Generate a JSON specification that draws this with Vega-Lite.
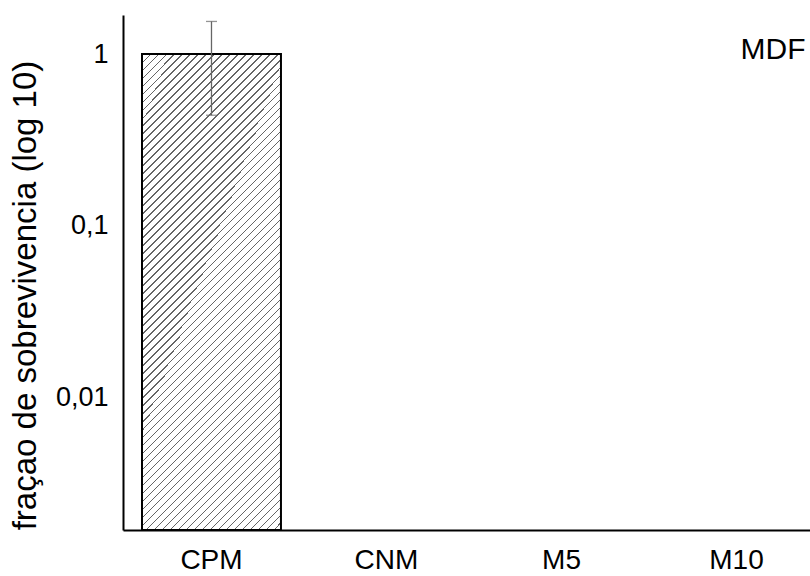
{
  "$schema": "https://vega.github.io/schema/vega-lite/v6.json",
  "autosize": {"type": "none"},
  "padding": {"left": 123, "top": 15, "right": 0, "bottom": 46},
  "width": 687,
  "height": 515,
  "background": "white",
  "config": {"view": {"stroke": null}, "font": "Liberation Sans"},
  "datasets": {
    "barras": [
      {"grupo": "CPM", "fracao": 1, "lo": 0.44, "hi": 1.55},
      {"grupo": "CNM", "fracao": null, "lo": null, "hi": null},
      {"grupo": "M5", "fracao": null, "lo": null, "hi": null},
      {"grupo": "M10", "fracao": null, "lo": null, "hi": null}
    ],
    "anot": [{"grupo": "M10", "fracao": 1, "texto": "MDF"}]
  },
  "encoding": {
    "x": {
      "field": "grupo", "type": "nominal",
      "scale": {"domain": ["CPM", "CNM", "M5", "M10"], "range": [0, 702], "paddingInner": 0.206, "paddingOuter": 0.1086},
      "axis": {"title": null, "ticks": false, "labelAngle": 0, "labelFontSize": 28, "labelColor": "black", "labelPadding": 16, "domainColor": "black", "domainWidth": 2}
    }
  },
  "layer": [
    {
      "data": {"name": "barras"},
      "mark": {
        "type": "bar", "stroke": "black", "strokeWidth": 2,
        "fill": {"gradient": "linear", "x1": 0, "y1": 0, "x2": 0.3982, "y2": 1.3608, "stops": [
{"offset":0,"color":"#666"},{"offset":0.002,"color":"#666"},{"offset":0.002,"color":"#fff"},{"offset":0.01136,"color":"#fff"},
{"offset":0.01136,"color":"#666"},{"offset":0.01336,"color":"#666"},{"offset":0.01336,"color":"#fff"},{"offset":0.02273,"color":"#fff"},
{"offset":0.02273,"color":"#666"},{"offset":0.02473,"color":"#666"},{"offset":0.02473,"color":"#fff"},{"offset":0.03409,"color":"#fff"},
{"offset":0.03409,"color":"#666"},{"offset":0.03609,"color":"#666"},{"offset":0.03609,"color":"#fff"},{"offset":0.04545,"color":"#fff"},
{"offset":0.04545,"color":"#666"},{"offset":0.04745,"color":"#666"},{"offset":0.04745,"color":"#fff"},{"offset":0.05682,"color":"#fff"},
{"offset":0.05682,"color":"#666"},{"offset":0.05882,"color":"#666"},{"offset":0.05882,"color":"#fff"},{"offset":0.06818,"color":"#fff"},
{"offset":0.06818,"color":"#666"},{"offset":0.07018,"color":"#666"},{"offset":0.07018,"color":"#fff"},{"offset":0.07955,"color":"#fff"},
{"offset":0.07955,"color":"#666"},{"offset":0.08155,"color":"#666"},{"offset":0.08155,"color":"#fff"},{"offset":0.09091,"color":"#fff"},
{"offset":0.09091,"color":"#666"},{"offset":0.09291,"color":"#666"},{"offset":0.09291,"color":"#fff"},{"offset":0.10227,"color":"#fff"},
{"offset":0.10227,"color":"#666"},{"offset":0.10427,"color":"#666"},{"offset":0.10427,"color":"#fff"},{"offset":0.11364,"color":"#fff"},
{"offset":0.11364,"color":"#666"},{"offset":0.11564,"color":"#666"},{"offset":0.11564,"color":"#fff"},{"offset":0.125,"color":"#fff"},
{"offset":0.125,"color":"#666"},{"offset":0.127,"color":"#666"},{"offset":0.127,"color":"#fff"},{"offset":0.13636,"color":"#fff"},
{"offset":0.13636,"color":"#666"},{"offset":0.13836,"color":"#666"},{"offset":0.13836,"color":"#fff"},{"offset":0.14773,"color":"#fff"},
{"offset":0.14773,"color":"#666"},{"offset":0.14973,"color":"#666"},{"offset":0.14973,"color":"#fff"},{"offset":0.15909,"color":"#fff"},
{"offset":0.15909,"color":"#666"},{"offset":0.16109,"color":"#666"},{"offset":0.16109,"color":"#fff"},{"offset":0.17045,"color":"#fff"},
{"offset":0.17045,"color":"#666"},{"offset":0.17245,"color":"#666"},{"offset":0.17245,"color":"#fff"},{"offset":0.18182,"color":"#fff"},
{"offset":0.18182,"color":"#666"},{"offset":0.18382,"color":"#666"},{"offset":0.18382,"color":"#fff"},{"offset":0.19318,"color":"#fff"},
{"offset":0.19318,"color":"#666"},{"offset":0.19518,"color":"#666"},{"offset":0.19518,"color":"#fff"},{"offset":0.20455,"color":"#fff"},
{"offset":0.20455,"color":"#666"},{"offset":0.20655,"color":"#666"},{"offset":0.20655,"color":"#fff"},{"offset":0.21591,"color":"#fff"},
{"offset":0.21591,"color":"#666"},{"offset":0.21791,"color":"#666"},{"offset":0.21791,"color":"#fff"},{"offset":0.22727,"color":"#fff"},
{"offset":0.22727,"color":"#666"},{"offset":0.22927,"color":"#666"},{"offset":0.22927,"color":"#fff"},{"offset":0.23864,"color":"#fff"},
{"offset":0.23864,"color":"#666"},{"offset":0.24064,"color":"#666"},{"offset":0.24064,"color":"#fff"},{"offset":0.25,"color":"#fff"},
{"offset":0.25,"color":"#666"},{"offset":0.252,"color":"#666"},{"offset":0.252,"color":"#fff"},{"offset":0.26136,"color":"#fff"},
{"offset":0.26136,"color":"#666"},{"offset":0.26336,"color":"#666"},{"offset":0.26336,"color":"#fff"},{"offset":0.27273,"color":"#fff"},
{"offset":0.27273,"color":"#666"},{"offset":0.27473,"color":"#666"},{"offset":0.27473,"color":"#fff"},{"offset":0.28409,"color":"#fff"},
{"offset":0.28409,"color":"#666"},{"offset":0.28609,"color":"#666"},{"offset":0.28609,"color":"#fff"},{"offset":0.29545,"color":"#fff"},
{"offset":0.29545,"color":"#666"},{"offset":0.29745,"color":"#666"},{"offset":0.29745,"color":"#fff"},{"offset":0.30682,"color":"#fff"},
{"offset":0.30682,"color":"#666"},{"offset":0.30882,"color":"#666"},{"offset":0.30882,"color":"#fff"},{"offset":0.31818,"color":"#fff"},
{"offset":0.31818,"color":"#666"},{"offset":0.32018,"color":"#666"},{"offset":0.32018,"color":"#fff"},{"offset":0.32955,"color":"#fff"},
{"offset":0.32955,"color":"#666"},{"offset":0.33155,"color":"#666"},{"offset":0.33155,"color":"#fff"},{"offset":0.34091,"color":"#fff"},
{"offset":0.34091,"color":"#666"},{"offset":0.34291,"color":"#666"},{"offset":0.34291,"color":"#fff"},{"offset":0.35227,"color":"#fff"},
{"offset":0.35227,"color":"#666"},{"offset":0.35427,"color":"#666"},{"offset":0.35427,"color":"#fff"},{"offset":0.36364,"color":"#fff"},
{"offset":0.36364,"color":"#666"},{"offset":0.36564,"color":"#666"},{"offset":0.36564,"color":"#fff"},{"offset":0.375,"color":"#fff"},
{"offset":0.375,"color":"#666"},{"offset":0.377,"color":"#666"},{"offset":0.377,"color":"#fff"},{"offset":0.38636,"color":"#fff"},
{"offset":0.38636,"color":"#666"},{"offset":0.38836,"color":"#666"},{"offset":0.38836,"color":"#fff"},{"offset":0.39773,"color":"#fff"},
{"offset":0.39773,"color":"#666"},{"offset":0.39973,"color":"#666"},{"offset":0.39973,"color":"#fff"},{"offset":0.40909,"color":"#fff"},
{"offset":0.40909,"color":"#666"},{"offset":0.41109,"color":"#666"},{"offset":0.41109,"color":"#fff"},{"offset":0.42045,"color":"#fff"},
{"offset":0.42045,"color":"#666"},{"offset":0.42245,"color":"#666"},{"offset":0.42245,"color":"#fff"},{"offset":0.43182,"color":"#fff"},
{"offset":0.43182,"color":"#666"},{"offset":0.43382,"color":"#666"},{"offset":0.43382,"color":"#fff"},{"offset":0.44318,"color":"#fff"},
{"offset":0.44318,"color":"#666"},{"offset":0.44518,"color":"#666"},{"offset":0.44518,"color":"#fff"},{"offset":0.45455,"color":"#fff"},
{"offset":0.45455,"color":"#666"},{"offset":0.45655,"color":"#666"},{"offset":0.45655,"color":"#fff"},{"offset":0.46591,"color":"#fff"},
{"offset":0.46591,"color":"#666"},{"offset":0.46791,"color":"#666"},{"offset":0.46791,"color":"#fff"},{"offset":0.47727,"color":"#fff"},
{"offset":0.47727,"color":"#666"},{"offset":0.47927,"color":"#666"},{"offset":0.47927,"color":"#fff"},{"offset":0.48864,"color":"#fff"},
{"offset":0.48864,"color":"#666"},{"offset":0.49064,"color":"#666"},{"offset":0.49064,"color":"#fff"},{"offset":0.5,"color":"#fff"},
{"offset":0.5,"color":"#666"},{"offset":0.502,"color":"#666"},{"offset":0.502,"color":"#fff"},{"offset":0.51136,"color":"#fff"},
{"offset":0.51136,"color":"#666"},{"offset":0.51336,"color":"#666"},{"offset":0.51336,"color":"#fff"},{"offset":0.52273,"color":"#fff"},
{"offset":0.52273,"color":"#666"},{"offset":0.52473,"color":"#666"},{"offset":0.52473,"color":"#fff"},{"offset":0.53409,"color":"#fff"},
{"offset":0.53409,"color":"#666"},{"offset":0.53609,"color":"#666"},{"offset":0.53609,"color":"#fff"},{"offset":0.54545,"color":"#fff"},
{"offset":0.54545,"color":"#666"},{"offset":0.54745,"color":"#666"},{"offset":0.54745,"color":"#fff"},{"offset":0.55682,"color":"#fff"},
{"offset":0.55682,"color":"#666"},{"offset":0.55882,"color":"#666"},{"offset":0.55882,"color":"#fff"},{"offset":0.56818,"color":"#fff"},
{"offset":0.56818,"color":"#666"},{"offset":0.57018,"color":"#666"},{"offset":0.57018,"color":"#fff"},{"offset":0.57955,"color":"#fff"},
{"offset":0.57955,"color":"#666"},{"offset":0.58155,"color":"#666"},{"offset":0.58155,"color":"#fff"},{"offset":0.59091,"color":"#fff"},
{"offset":0.59091,"color":"#666"},{"offset":0.59291,"color":"#666"},{"offset":0.59291,"color":"#fff"},{"offset":0.60227,"color":"#fff"},
{"offset":0.60227,"color":"#666"},{"offset":0.60427,"color":"#666"},{"offset":0.60427,"color":"#fff"},{"offset":0.61364,"color":"#fff"},
{"offset":0.61364,"color":"#666"},{"offset":0.61564,"color":"#666"},{"offset":0.61564,"color":"#fff"},{"offset":0.625,"color":"#fff"},
{"offset":0.625,"color":"#666"},{"offset":0.627,"color":"#666"},{"offset":0.627,"color":"#fff"},{"offset":0.63636,"color":"#fff"},
{"offset":0.63636,"color":"#666"},{"offset":0.63836,"color":"#666"},{"offset":0.63836,"color":"#fff"},{"offset":0.64773,"color":"#fff"},
{"offset":0.64773,"color":"#666"},{"offset":0.64973,"color":"#666"},{"offset":0.64973,"color":"#fff"},{"offset":0.65909,"color":"#fff"},
{"offset":0.65909,"color":"#666"},{"offset":0.66109,"color":"#666"},{"offset":0.66109,"color":"#fff"},{"offset":0.67045,"color":"#fff"},
{"offset":0.67045,"color":"#666"},{"offset":0.67245,"color":"#666"},{"offset":0.67245,"color":"#fff"},{"offset":0.68182,"color":"#fff"},
{"offset":0.68182,"color":"#666"},{"offset":0.68382,"color":"#666"},{"offset":0.68382,"color":"#fff"},{"offset":0.69318,"color":"#fff"},
{"offset":0.69318,"color":"#666"},{"offset":0.69518,"color":"#666"},{"offset":0.69518,"color":"#fff"},{"offset":0.70455,"color":"#fff"},
{"offset":0.70455,"color":"#666"},{"offset":0.70655,"color":"#666"},{"offset":0.70655,"color":"#fff"},{"offset":0.71591,"color":"#fff"},
{"offset":0.71591,"color":"#666"},{"offset":0.71791,"color":"#666"},{"offset":0.71791,"color":"#fff"},{"offset":0.72727,"color":"#fff"},
{"offset":0.72727,"color":"#666"},{"offset":0.72927,"color":"#666"},{"offset":0.72927,"color":"#fff"},{"offset":0.73864,"color":"#fff"},
{"offset":0.73864,"color":"#666"},{"offset":0.74064,"color":"#666"},{"offset":0.74064,"color":"#fff"},{"offset":0.75,"color":"#fff"},
{"offset":0.75,"color":"#666"},{"offset":0.752,"color":"#666"},{"offset":0.752,"color":"#fff"},{"offset":0.76136,"color":"#fff"},
{"offset":0.76136,"color":"#666"},{"offset":0.76336,"color":"#666"},{"offset":0.76336,"color":"#fff"},{"offset":0.77273,"color":"#fff"},
{"offset":0.77273,"color":"#666"},{"offset":0.77473,"color":"#666"},{"offset":0.77473,"color":"#fff"},{"offset":0.78409,"color":"#fff"},
{"offset":0.78409,"color":"#666"},{"offset":0.78609,"color":"#666"},{"offset":0.78609,"color":"#fff"},{"offset":0.79545,"color":"#fff"},
{"offset":0.79545,"color":"#666"},{"offset":0.79745,"color":"#666"},{"offset":0.79745,"color":"#fff"},{"offset":0.80682,"color":"#fff"},
{"offset":0.80682,"color":"#666"},{"offset":0.80882,"color":"#666"},{"offset":0.80882,"color":"#fff"},{"offset":0.81818,"color":"#fff"},
{"offset":0.81818,"color":"#666"},{"offset":0.82018,"color":"#666"},{"offset":0.82018,"color":"#fff"},{"offset":0.82955,"color":"#fff"},
{"offset":0.82955,"color":"#666"},{"offset":0.83155,"color":"#666"},{"offset":0.83155,"color":"#fff"},{"offset":0.84091,"color":"#fff"},
{"offset":0.84091,"color":"#666"},{"offset":0.84291,"color":"#666"},{"offset":0.84291,"color":"#fff"},{"offset":0.85227,"color":"#fff"},
{"offset":0.85227,"color":"#666"},{"offset":0.85427,"color":"#666"},{"offset":0.85427,"color":"#fff"},{"offset":0.86364,"color":"#fff"},
{"offset":0.86364,"color":"#666"},{"offset":0.86564,"color":"#666"},{"offset":0.86564,"color":"#fff"},{"offset":0.875,"color":"#fff"},
{"offset":0.875,"color":"#666"},{"offset":0.877,"color":"#666"},{"offset":0.877,"color":"#fff"},{"offset":0.88636,"color":"#fff"},
{"offset":0.88636,"color":"#666"},{"offset":0.88836,"color":"#666"},{"offset":0.88836,"color":"#fff"},{"offset":0.89773,"color":"#fff"},
{"offset":0.89773,"color":"#666"},{"offset":0.89973,"color":"#666"},{"offset":0.89973,"color":"#fff"},{"offset":0.90909,"color":"#fff"},
{"offset":0.90909,"color":"#666"},{"offset":0.91109,"color":"#666"},{"offset":0.91109,"color":"#fff"},{"offset":0.92045,"color":"#fff"},
{"offset":0.92045,"color":"#666"},{"offset":0.92245,"color":"#666"},{"offset":0.92245,"color":"#fff"},{"offset":0.93182,"color":"#fff"},
{"offset":0.93182,"color":"#666"},{"offset":0.93382,"color":"#666"},{"offset":0.93382,"color":"#fff"},{"offset":0.94318,"color":"#fff"},
{"offset":0.94318,"color":"#666"},{"offset":0.94518,"color":"#666"},{"offset":0.94518,"color":"#fff"},{"offset":0.95455,"color":"#fff"},
{"offset":0.95455,"color":"#666"},{"offset":0.95655,"color":"#666"},{"offset":0.95655,"color":"#fff"},{"offset":0.96591,"color":"#fff"},
{"offset":0.96591,"color":"#666"},{"offset":0.96791,"color":"#666"},{"offset":0.96791,"color":"#fff"},{"offset":0.97727,"color":"#fff"},
{"offset":0.97727,"color":"#666"},{"offset":0.97927,"color":"#666"},{"offset":0.97927,"color":"#fff"},{"offset":0.98864,"color":"#fff"},
{"offset":0.98864,"color":"#666"},{"offset":0.99064,"color":"#666"},{"offset":0.99064,"color":"#fff"},{"offset":1,"color":"#fff"}
        ]}
      },
      "encoding": {
        "y": {
          "field": "fracao", "type": "quantitative",
          "scale": {"type": "log", "domain": [0.00168, 1.69], "nice": false},
          "axis": {
            "values": [0.01, 0.1, 1], "format": "~g", "labelExpr": "replace(datum.label, '.', ',')",
            "ticks": false, "grid": false, "domainColor": "black", "domainWidth": 2,
            "labelFontSize": 27, "labelColor": "black", "labelPadding": 15,
            "title": "fraçao de sobrevivencia (log 10)", "titleFontSize": 33, "titleFontWeight": "normal", "titleColor": "black",
            "titleAngle": -90, "titleX": -88, "titleY": 280, "titleAlign": "center", "titleBaseline": "alphabetic"
          }
        },
        "y2": {"datum": 0.00168}
      }
    },
    {
      "data": {"name": "barras"},
      "mark": {"type": "rule", "color": "#666", "strokeWidth": 1.3},
      "encoding": {
        "y": {"field": "lo", "type": "quantitative"},
        "y2": {"field": "hi"}
      }
    },
    {
      "data": {"name": "barras"},
      "mark": {"type": "tick", "color": "#666", "size": 11, "thickness": 1.3},
      "encoding": {"y": {"field": "lo", "type": "quantitative"}}
    },
    {
      "data": {"name": "barras"},
      "mark": {"type": "tick", "color": "#666", "size": 11, "thickness": 1.3},
      "encoding": {"y": {"field": "hi", "type": "quantitative"}}
    },
    {
      "data": {"name": "anot"},
      "mark": {"type": "text", "align": "right", "baseline": "middle", "dx": 69, "dy": -4, "fontSize": 30, "color": "black"},
      "encoding": {
        "y": {"field": "fracao", "type": "quantitative"},
        "text": {"field": "texto"}
      }
    }
  ]
}
